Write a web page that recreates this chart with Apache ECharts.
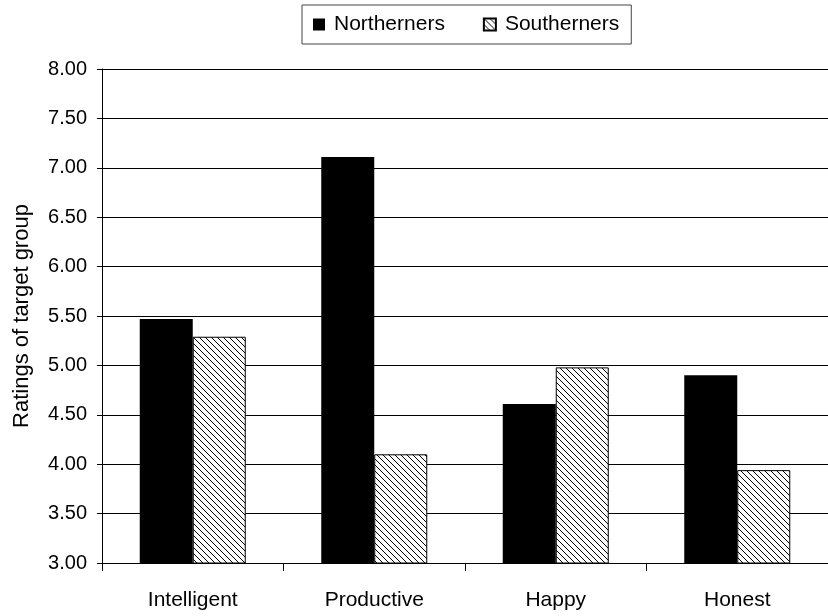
<!DOCTYPE html>
<html>
<head>
<meta charset="utf-8">
<script src="https://cdn.jsdelivr.net/npm/echarts@6/dist/echarts.min.js"></script>
<style>
html,body{margin:0;padding:0;background:#fff;}
#chart{width:828px;height:616px;}
</style>
</head>
<body>
<div id="chart"></div>
<script>
const categories = ['Intelligent', 'Productive', 'Happy', 'Honest'];
const northerners = [5.47, 7.11, 4.61, 4.90];
const southerners = [5.29, 4.10, 4.98, 3.94];
const seriesNames = ['Northerners', 'Southerners'];
const yAxisTitle = 'Ratings of target group';

function makeHatch() {
  const s = 6;
  const c = document.createElement('canvas');
  c.width = s; c.height = s;
  const ctx = c.getContext('2d');
  ctx.fillStyle = '#fff';
  ctx.fillRect(0, 0, s, s);
  ctx.strokeStyle = '#000';
  ctx.lineWidth = 1;
  ctx.beginPath();
  for (let i = -1; i <= 1; i++) {
    ctx.moveTo(i * s, 0);
    ctx.lineTo(i * s + s, s);
  }
  ctx.stroke();
  return c;
}
const hatch = { image: makeHatch(), repeat: 'repeat' };

const font = 'Liberation Sans, Arial, Helvetica, sans-serif';
const chart = echarts.init(document.getElementById('chart'), null, { renderer: 'canvas' });
chart.setOption({
  animation: false,
  backgroundColor: '#fff',
  textStyle: { fontFamily: font },
  legend: {
    left: 302,
    top: 5,
    padding: [9, 12, 9, 11],
    itemGap: 38,
    itemWidth: 12,
    itemHeight: 12,
    borderColor: '#444',
    borderWidth: 1,
    icon: 'rect',
    textStyle: { fontSize: 21, color: '#000', fontFamily: font, padding: [0, 0, 0, 4] },
    data: seriesNames
  },
  grid: { left: 102, top: 69, width: 728, bottom: 53, containLabel: false },
  xAxis: {
    type: 'category',
    data: categories,
    axisLine: { lineStyle: { color: '#000', width: 1 } },
    axisTick: { show: true, length: 8, lineStyle: { color: '#000' } },
    axisLabel: { color: '#000', fontSize: 21, margin: 27, fontFamily: font }
  },
  yAxis: {
    type: 'value',
    min: 3,
    max: 8,
    interval: 0.5,
    name: yAxisTitle,
    nameLocation: 'middle',
    nameRotate: 90,
    nameGap: 69,
    nameTextStyle: { fontSize: 22, color: '#000', fontFamily: font },
    axisLine: { show: true, lineStyle: { color: '#000', width: 1 } },
    axisTick: { show: true, length: 5, lineStyle: { color: '#000' } },
    axisLabel: { color: '#000', fontSize: 20, margin: 15, fontFamily: font, formatter: v => v.toFixed(2) },
    splitLine: { show: true, lineStyle: { color: '#000', width: 1 } }
  },
  series: [
    {
      name: seriesNames[0],
      type: 'bar',
      data: northerners,
      barWidth: 53,
      barGap: '0%',
      itemStyle: { color: '#000' }
    },
    {
      name: seriesNames[1],
      type: 'bar',
      data: southerners,
      barWidth: 53,
      itemStyle: { color: hatch, borderColor: '#000', borderWidth: 1 }
    }
  ]
});
</script>
</body>
</html>
